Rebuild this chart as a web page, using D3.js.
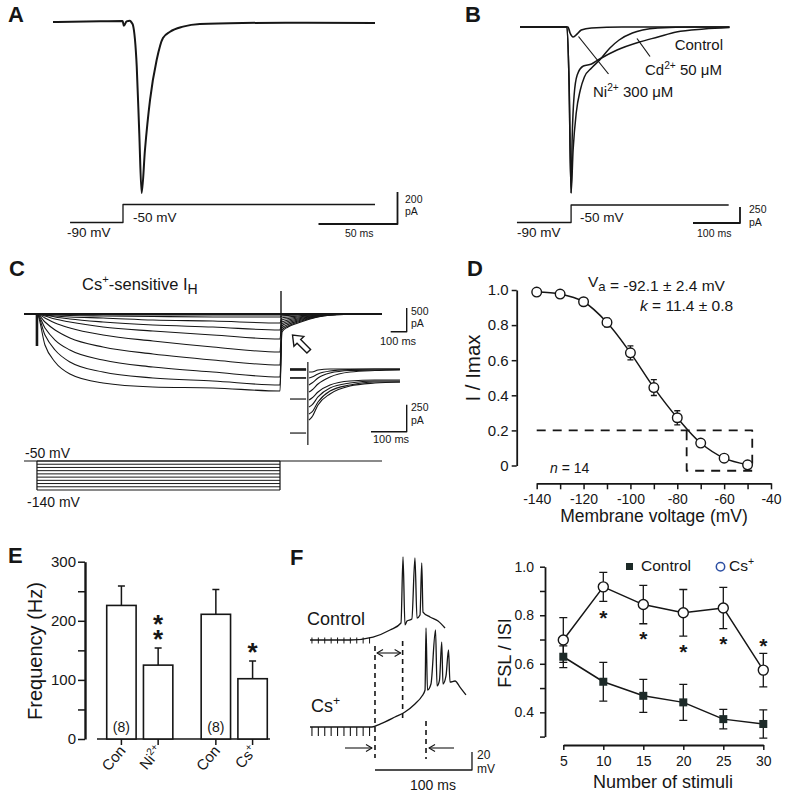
<!DOCTYPE html>
<html><head><meta charset="utf-8">
<script src="https://cdn.jsdelivr.net/npm/d3@7/dist/d3.min.js"></script>
<style>
html,body{margin:0;padding:0;background:#fff;}
svg text{font-family:"Liberation Sans",Arial,Helvetica,sans-serif;fill:#161616;}
</style></head><body>
<svg id="fig" width="790" height="801" xmlns="http://www.w3.org/2000/svg"></svg>
<script>
// ================= DATA =================
// Panel A: whole-cell current (ms, pA) and voltage command
const aTimeMs    = [0, 30, 44.1, 44.8, 46.6, 48.7, 49.8, 50.6, 53, 54.6, 56.1, 58.2, 61.4, 65.6, 69.6, 74.1, 82.3, 93, 120, 160, 203.8];
const aCurrentPa = [0, 4, 6, -24, 4, 8, -4, -19, -279, -694, -1069, -800, -488, -238, -100, -61, -29, -12, -6, -4, -6];
const aCmdTimeMs = [10.8, 44.3, 44.3, 203.8];
const aCmdMv     = [-90, -90, -50, -50];
const aScaleMs = 50, aScalePa = 200;

// Panel B: three traces (ms, pA)
const bSlowTimeMs = [0, 100, 104.3, 108.7, 110.9, 115.2, 121.7, 134.8, 152.2, 169.6, 206.5, 254.3, 293.5, 332.6, 391.3, 445.7];
const bSlowPa     = [0, 0, -828, -2594, -1766, -1063, -750, -609, -578, -500, -359, -234, -156, -78, -31, -8];
const bFastTimeMs = [0, 100, 104.3, 108.7, 113, 119.6, 128.3, 137, 152.2, 169.6, 191.3, 210.9, 239.1, 260.9, 293.5, 369.6, 445.7];
const bFastPa     = [0, 0, -828, -2594, -1922, -1344, -984, -781, -641, -516, -328, -203, -94, -47, -16, 0, 0];
const bNiTimeMs   = [0, 102, 106.5, 113, 121.7, 130.4, 152, 217, 445.7];
const bNiPa       = [0, 0, -94, -156, -109, -47, -16, 0, 0];
const bCmdTimeMs  = [-6.5, 108.7, 108.7, 444];
const bCmdMv      = [-90, -90, -50, -50];
const bScaleMs = 100, bScalePa = 250;

// Panel C: Cs+-sensitive Ih family (ms, pA)
const cTimeMs = [0, 81, 131, 194, 287, 494, 806, 1181, 1600, 1612, 1650, 1712, 1837, 2000, 2237];
const cCurrentsPa = [
  [0, 0, -6, -11, -15, -17, -21, -21, -21, -21, -17, -11, 0, 0, 0],
  [0, 0, -11, -21, -32, -42, -53, -63, -63, -42, -32, -21, -6, 0, 0],
  [0, 0, -21, -42, -63, -84, -127, -148, -190, -84, -63, -42, -17, 0, 0],
  [0, 0, -21, -63, -106, -169, -232, -274, -338, -127, -95, -63, -21, 0, 0],
  [0, 0, -42, -106, -169, -274, -359, -443, -528, -169, -127, -84, -27, 0, 0],
  [0, 0, -84, -190, -295, -443, -570, -696, -802, -211, -158, -106, -34, 0, 0],
  [0, 0, -169, -338, -507, -696, -844, -971, -1076, -253, -190, -127, -42, -4, 0],
  [0, 0, -295, -549, -760, -971, -1118, -1224, -1329, -295, -222, -148, -49, -6, 0],
  [0, 0, -443, -760, -1013, -1224, -1350, -1414, -1498, -338, -253, -169, -55, -8, 0],
  [0, 0, -654, -1013, -1266, -1456, -1540, -1561, -1625, -380, -274, -190, -63, -11, 0]
];
const cStepStartMs = 81, cStepEndMs = 1600;
const cStepMv = [-50, -60, -70, -80, -90, -100, -110, -120, -130, -140];
// inset tail currents
const ciPreTimeMs = [0, 45];
const ciPreLevelPa = [0, 0, -9, -9, -83, -83, -278, -593];
const ciPostTimeMs = [53.2, 61.6, 78.4, 112, 168, 238, 308];
const ciPostPa = [
  [-28, -28, -9, 0, 0, 0, 0],
  [-83, -74, -46, -19, -5, 0, 0],
  [-148, -130, -83, -37, -14, -9, -5],
  [-213, -194, -139, -74, -28, -14, -9],
  [-287, -269, -213, -148, -111, -102, -102],
  [-352, -333, -259, -176, -130, -111, -111],
  [-417, -398, -306, -204, -148, -120, -120],
  [-472, -444, -333, -231, -157, -130, -120]
];

// Panel D: activation curve
const dVoltageMv = [-140, -130, -120, -110, -100, -90, -80, -70, -60, -50];
const dRatio     = [0.988, 0.977, 0.933, 0.815, 0.642, 0.444, 0.272, 0.128, 0.042, 0.004];
const dSem       = [0.005, 0.005, 0.008, 0.025, 0.04, 0.045, 0.04, 0.008, 0.006, 0.006];
const dYTicks = [0, 0.2, 0.4, 0.6, 0.8, 1.0];
const dXTicks = [-140, -130, -120, -110, -100, -90, -80, -70, -60, -50, -40];

// Panel E: bar chart
const eCategories = ["Con", "Ni2+", "Con", "Cs+"];
const eGroups = ["Ni", "Cs"];
const eValuesHz = [226, 125, 211, 102];
const eSemHz    = [33, 29, 42, 30];
const eNLabels  = ["(8)", "", "(8)", ""];
const eStars    = [0, 2, 0, 1];
const eYTicks = [0, 50, 100, 150, 200, 250, 300];

// Panel F (left): current-clamp traces (ms, mV)
const fCtrlTimeMs = [0, 41.2, 65, 82.5, 93.8, 95.9, 97.9, 100, 105, 108.2, 110.3, 113.4, 115.2, 116.5, 123.7, 132, 139.2];
const fCtrlMv     = [-70, -70, -66.7, -58.9, -51.1, 22.2, -53.3, -48.9, -46.7, 21.1, -45.6, -42.2, 15.6, -38.9, -44.4, -48.9, -56.7];
const fCsTimeMs = [0, 63.9, 72.2, 87.6, 97.9, 108.2, 115.5, 118.6, 119.6, 121.1, 124.7, 129.4, 131, 133.5, 135.8, 137.1, 140.2, 142.8, 144.3, 149.5, 154.6, 160.8];
const fCsMv     = [-70, -70, -66.7, -58.9, -53.3, -44.4, -35.6, -28.9, 40, -28.9, -22.2, 37.8, -24.4, -17.8, 24.4, -22.2, -13.3, 15.6, -20, -18.9, -25.6, -34.4];
const fStimTimesMs = [2, 8.6, 15.2, 21.8, 28.4, 35, 41.6, 48.2, 54.8, 61.4];
const fTrainEndMs = 67, fCtrlFslMs = 95.5, fCsFslMs = 119.6;
const fScaleMs = 100, fScaleMv = 20;

// Panel F (right): FSL / ISI
const gStimuli   = [5, 10, 15, 20, 25, 30];
const gControl   = [0.629, 0.526, 0.468, 0.441, 0.372, 0.352];
const gControlSe = [0.045, 0.08, 0.068, 0.074, 0.04, 0.058];
const gCs        = [0.698, 0.917, 0.844, 0.81, 0.83, 0.574];
const gCsSe      = [0.092, 0.06, 0.079, 0.096, 0.085, 0.069];
const gStarStim  = [10, 15, 20, 25, 30];
const gStarY     = [0.805, 0.72, 0.664, 0.70, 0.69];
const gYTicks = [0.3, 0.4, 0.5, 0.6, 0.7, 0.8, 0.9, 1.0];

// ================= DRAWING =================
const INK = '#161616';
const svg = d3.select('#fig');
svg.append('rect').attr('width', 790).attr('height', 801).attr('fill', '#fff');

function tr(xs, ys, x, y, curve) {
  return d3.line().x((d, i) => x(xs[i])).y(d => y(d)).curve(curve || d3.curveMonotoneX)(ys);
}
function stroke(g, d, w, dash) {
  return g.append('path').attr('d', d).attr('fill', 'none').attr('stroke', INK)
    .attr('stroke-width', w || 1.3).attr('stroke-linejoin', 'round')
    .attr('stroke-dasharray', dash || null);
}
function rich(g, x, y, parts, size, anchor, weight) {
  const t = g.append('text').attr('x', x).attr('y', y).attr('font-size', size)
    .attr('text-anchor', anchor || 'start').attr('font-weight', weight || null);
  let cur = 0;
  parts.forEach(p => {
    const [s, k] = Array.isArray(p) ? p : [p, ''];
    let target = 0, fs = null;
    if (k === 'sup') { target = -0.4 * size; fs = size * 0.68; }
    if (k === 'sub') { target = 0.25 * size; fs = size * 0.85; }
    const ts = t.append('tspan').text(s).attr('dy', target - cur);
    if (fs) ts.attr('font-size', fs);
    if (k === 'i') ts.attr('font-style', 'italic');
    cur = target;
  });
  return t;
}
function label(g, x, y, s, size, anchor, weight) {
  return g.append('text').attr('x', x).attr('y', y).attr('font-size', size)
    .attr('text-anchor', anchor || 'start').attr('font-weight', weight || null).text(s);
}
function chevron(g, x, y, dir) { // dir = +1 points right, -1 points left
  stroke(g, `M${x - 6 * dir},${y - 3.5}L${x},${y}L${x - 6 * dir},${y + 3.5}`, 1.1);
}
function styleAxis(ax, size) {
  ax.attr('font-size', size).attr('font-family', null).attr('color', INK);
  ax.selectAll('line').attr('stroke-width', 1.5);
  ax.select('.domain').attr('stroke-width', 1.8);
}

// Panel letters
[['A', 8, 22], ['B', 465, 22], ['C', 9, 276], ['D', 467, 276], ['E', 8, 563], ['F', 290, 565]]
  .forEach(([s, x, y]) => label(svg, x, y, s, 22, 'start', 'bold'));

// ---------- Panel A ----------
{
  const g = svg.append('g');
  const x = d3.scaleLinear().domain([0, 100]).range([53, 211]);
  const yI = d3.scaleLinear().domain([0, -1000]).range([22, 182]);
  const yV = d3.scaleLinear().domain([-90, -50]).range([222.5, 204.5]);
  stroke(g, tr(aTimeMs, aCurrentPa, x, yI), 2);
  stroke(g, tr(aCmdTimeMs, aCmdMv, x, yV, d3.curveLinear), 1.3);
  const bx = 397.5, by = 224;
  const w = x(aScaleMs) - x(0), h = Math.abs(yI(-aScalePa) - yI(0));
  stroke(g, `M${bx - w},${by}H${bx}V${by - h}`, 1.8);
  label(g, 67, 237, '-90 mV', 13.5);
  label(g, 133, 222, '-50 mV', 13.5);
  label(g, 345, 237, aScaleMs + ' ms', 10.5);
  label(g, 405, 203, String(aScalePa), 10.5);
  label(g, 405, 215, 'pA', 10.5);
}

// ---------- Panel B ----------
{
  const g = svg.append('g');
  const x = d3.scaleLinear().domain([0, 100]).range([520, 567]);
  const yI = d3.scaleLinear().domain([0, -250]).range([27, 43]);
  const yV = d3.scaleLinear().domain([-90, -50]).range([222.5, 205]);
  stroke(g, tr(bNiTimeMs, bNiPa, x, yI), 1.7);
  stroke(g, tr(bSlowTimeMs, bSlowPa, x, yI), 1.5);
  stroke(g, tr(bFastTimeMs, bFastPa, x, yI), 1.5);
  stroke(g, tr(bCmdTimeMs, bCmdMv, x, yV, d3.curveLinear), 1.3);
  const bx = 740, by = 223;
  const w = x(bScaleMs) - x(0), h = Math.abs(yI(-bScalePa) - yI(0));
  stroke(g, `M${bx - w},${by}H${bx}V${by - h}`, 1.8);
  label(g, 517, 237, '-90 mV', 13.5);
  label(g, 580, 222, '-50 mV', 13.5);
  label(g, 697, 237, bScaleMs + ' ms', 10.5);
  label(g, 749, 213, String(bScalePa), 10.5);
  label(g, 749, 226, 'pA', 10.5);
  label(g, 723, 50, 'Control', 15, 'end');
  rich(g, 645, 75, ['Cd', ['2+', 'sup'], ' 50 \u03bcM'], 15);
  rich(g, 593, 97, ['Ni', ['2+', 'sup'], ' 300 \u03bcM'], 15);
  stroke(g, 'M578.5,36.5L608.5,74', 1.2);
  stroke(g, 'M637,38.5L650,56.5', 1.2);
}

// ---------- Panel C ----------
{
  const g = svg.append('g');
  const x = d3.scaleLinear().domain([0, 100]).range([24, 40]);
  const y = d3.scaleLinear().domain([0, -500]).range([314, 337.7]);
  cCurrentsPa.forEach(tr0 => stroke(g, tr(cTimeMs, tr0, x, y), 1.1));
  stroke(g, `M${x(0)},${y(0)}H382`, 1.8);
  stroke(g, `M${x(cStepStartMs)},${y(0)}V346`, 2.6);
  stroke(g, `M${x(cStepEndMs) + 1},291V335`, 1.4);
  // arrow
  g.append('path').attr('d', 'M0,0L-9,-7L-9,-2.6L-23,-2.6L-23,2.6L-9,2.6L-9,7Z')
    .attr('transform', 'translate(292.5,335) rotate(225)')
    .attr('fill', '#fff').attr('stroke', INK).attr('stroke-width', 1.4).attr('stroke-linejoin', 'miter');
  // scale bar (main)
  {
    const bx = 406.7, by = 331.7;
    const w = x(100) - x(0), h = Math.abs(y(-500) - y(0));
    stroke(g, `M${bx - w},${by}H${bx}V${by - h}`, 1.4);
    label(g, 411, 315, '500', 10.5);
    label(g, 411, 327, 'pA', 10.5);
    label(g, 380, 345, '100 ms', 11);
  }
  // inset
  const ix = d3.scaleLinear().domain([0, 100]).range([290, 325.7]);
  const iy = d3.scaleLinear().domain([0, -250]).range([369, 396]);
  ciPreLevelPa.forEach(v => stroke(g, tr(ciPreTimeMs, [v, v], ix, iy, d3.curveLinear), 1.2));
  ciPostPa.forEach(arr => stroke(g, tr(ciPostTimeMs, arr, ix, iy), 1.1));
  stroke(g, `M${ix(50)},362V445`, 1.2);
  {
    const bx = 406.7, by = 431.7;
    const w = ix(100) - ix(0), h = Math.abs(iy(-250) - iy(0));
    stroke(g, `M${bx - w},${by}H${bx}V${by - h}`, 1.4);
    label(g, 411, 411, '250', 10.5);
    label(g, 411, 424, 'pA', 10.5);
    label(g, 373, 443, '100 ms', 11);
  }
  // voltage protocol
  const yV = d3.scaleLinear().domain([-50, -140]).range([461, 490]);
  stroke(g, `M24,${yV(-50)}H382`, 1.2);
  cStepMv.forEach(v => stroke(g, `M${x(cStepStartMs)},${yV(v)}H${x(cStepEndMs)}`, 1));
  stroke(g, `M${x(cStepStartMs)},${yV(-50)}V${yV(-140)}M${x(cStepEndMs)},${yV(-50)}V${yV(-140)}`, 1.2);
  label(g, 25, 458, '-50 mV', 14);
  label(g, 27, 507, '-140 mV', 14);
  rich(g, 82, 290, ['Cs', ['+', 'sup'], '-sensitive I', ['H', 'sub']], 16.5);
}

// ---------- Panel D ----------
{
  const g = svg.append('g');
  const x = d3.scaleLinear().domain([-140, -40]).range([536.7, 771]);
  const y = d3.scaleLinear().domain([0, 1]).range([465.5, 290]);
  const ay = g.append('g').attr('transform', 'translate(516.7,0)')
    .call(d3.axisLeft(y).tickValues(dYTicks).tickSize(5).tickPadding(3).tickSizeOuter(0)
      .tickFormat(d => d === 0 ? '0' : d3.format('.1f')(d)));
  styleAxis(ay, 15);
  const ax = g.append('g').attr('transform', 'translate(0,483.3)')
    .call(d3.axisBottom(x).tickValues(dXTicks).tickSize(6).tickPadding(5).tickSizeOuter(0)
      .tickFormat(d => d % 20 === 0 ? d : ''));
  styleAxis(ax, 14);
  // dashed region
  stroke(g, `M${x(-140)},${y(0.2)}H${x(-48)}V${y(-0.03)}H${x(-76)}V${y(0.2)}`, 1.8, '9,7');
  // fit curve
  stroke(g, tr(dVoltageMv, dRatio, x, y, d3.curveCatmullRom.alpha(0.5)), 1.5);
  // error bars
  dVoltageMv.forEach((v, i) => {
    if (dSem[i] < 0.01) return;
    const cx = x(v);
    stroke(g, `M${cx},${y(dRatio[i] - dSem[i])}V${y(dRatio[i] + dSem[i])}M${cx - 3},${y(dRatio[i] - dSem[i])}H${cx + 3}M${cx - 3},${y(dRatio[i] + dSem[i])}H${cx + 3}`, 1.3);
  });
  g.selectAll('circle.d').data(dVoltageMv).enter().append('circle')
    .attr('cx', d => x(d)).attr('cy', (d, i) => y(dRatio[i])).attr('r', 4.8)
    .attr('fill', '#fff').attr('stroke', INK).attr('stroke-width', 1.4);
  rich(g, 588, 287, ['V', ['a', 'sub'], ['', ''], ' = -92.1 \u00b1 2.4 mV'], 15.5);
  rich(g, 640, 311, [['k', 'i'], ' = 11.4 \u00b1 0.8'], 15.5);
  rich(g, 550, 473, [['n', 'i'], ' = 14'], 14);
  label(g, 654, 522, 'Membrane voltage (mV)', 17.5, 'middle');
  label(g, 0, 0, 'I / Imax', 20.5, 'middle').attr('transform', 'translate(480,368) rotate(-90)');
}

// ---------- Panel E ----------
{
  const g = svg.append('g');
  const y = d3.scaleLinear().domain([0, 300]).range([739, 561.7]);
  const outer = d3.scaleBand().domain(eGroups).range([102, 272]).paddingInner(0.3).paddingOuter(0.05);
  const inner = d3.scaleBand().domain([0, 1]).range([0, outer.bandwidth()]).paddingInner(0.2);
  const bx = i => outer(eGroups[Math.floor(i / 2)]) + inner(i % 2);
  const bw = inner.bandwidth();
  const ay = g.append('g').attr('transform', 'translate(85,0)')
    .call(d3.axisLeft(y).tickValues(eYTicks).tickSize(7).tickPadding(2).tickSizeOuter(0)
      .tickFormat(d => d % 100 === 0 ? d : ''));
  styleAxis(ay, 15);
  ay.select('.domain').attr('stroke-width', 2.4);
  stroke(g, `M97,${y(0)}H270`, 1.6);
  eValuesHz.forEach((v, i) => {
    const cx = bx(i) + bw / 2;
    const top = y(v + eSemHz[i]);
    stroke(g, `M${cx},${y(v)}V${top}M${cx - 3.5},${top}H${cx + 3.5}`, 1.5);
    g.append('rect').attr('x', bx(i)).attr('y', y(v)).attr('width', bw).attr('height', y(0) - y(v))
      .attr('fill', '#fff').attr('stroke', INK).attr('stroke-width', 1.6);
    stroke(g, `M${cx},${y(0)}V${y(0) + 6}`, 1.5);
    if (eNLabels[i]) label(g, cx, 731.5, eNLabels[i], 14, 'middle');
    if (eStars[i] > 0) {
      // stacked stars in a single text element
      const st = g.append('text').attr('font-size', 26).attr('font-weight', 'bold')
        .attr('text-anchor', 'middle');
      for (let s = eStars[i] - 1; s >= 0; s--) {
        st.append('tspan').attr('x', cx).attr('y', top - 1 - s * 15 + 1.3).text('*');
      }
    }
    const parts = eCategories[i] === 'Ni2+' ? ['Ni', ['2+', 'sup']] :
                  eCategories[i] === 'Cs+' ? ['Cs', ['+', 'sup']] : [eCategories[i]];
    rich(g, 0, 0, parts, 15, 'end').attr('transform', `translate(${cx + 5},${751}) rotate(-50)`);
  });
  label(g, 0, 0, 'Frequency (Hz)', 20, 'middle').attr('transform', 'translate(42,651) rotate(-90)');
}

// ---------- Panel F (left) ----------
{
  const g = svg.append('g');
  const x = d3.scaleLinear().domain([0, 100]).range([310, 407]);
  const yC = d3.scaleLinear().domain([-70, -50]).range([640, 622]);
  const yS = d3.scaleLinear().domain([-70, -50]).range([727, 709]);
  stroke(g, tr(fCtrlTimeMs, fCtrlMv, x, yC), 1.3);
  stroke(g, tr(fCsTimeMs, fCsMv, x, yS), 1.3);
  fStimTimesMs.forEach(t => {
    stroke(g, `M${x(t)},${yC(-70) - 2.5}V${yC(-70) + 3.5}`, 1);
    stroke(g, `M${x(t)},${yS(-70)}V${yS(-70) + 9}`, 1.1);
  });
  const dash = '5,4';
  stroke(g, `M${x(fTrainEndMs)},646V758`, 1.6, dash);
  stroke(g, `M${x(fCtrlFslMs)},641V719`, 1.6, dash);
  stroke(g, `M${x(fCsFslMs)},721V759`, 1.6, dash);
  // double arrow
  const ya = 653;
  stroke(g, `M${x(fTrainEndMs) + 2},${ya}H${x(fCtrlFslMs) - 2}`, 1.1);
  chevron(g, x(fTrainEndMs) + 2, ya, -1);
  chevron(g, x(fCtrlFslMs) - 2, ya, 1);
  // side arrows
  stroke(g, `M345,748H${x(fTrainEndMs) - 3}`, 1.1);
  chevron(g, x(fTrainEndMs) - 3, 748, 1);
  stroke(g, `M454,748H${x(fCsFslMs) + 3}`, 1.1);
  chevron(g, x(fCsFslMs) + 3, 748, -1);
  // scale bar
  const sx0 = x(fTrainEndMs), sx1 = x(fTrainEndMs + fScaleMs);
  const sh = Math.abs(yS(-70 + fScaleMv) - yS(-70));
  stroke(g, `M${sx0},770H${sx1}V${770 - sh}`, 1.3);
  label(g, 477, 759, String(fScaleMv), 12);
  label(g, 477, 773, 'mV', 12);
  label(g, 410, 790, fScaleMs + ' ms', 14);
  label(g, 307, 625, 'Control', 18);
  rich(g, 311, 712, ['Cs', ['+', 'sup']], 18);
}

// ---------- Panel F (right) ----------
{
  const g = svg.append('g');
  const x = d3.scaleLinear().domain([5, 30]).range([563.3, 763.3]);
  const y = d3.scaleLinear().domain([0.3, 1.0]).range([736.6, 566.7]);
  const ay = g.append('g').attr('transform', 'translate(545,0)')
    .call(d3.axisLeft(y).tickValues(gYTicks).tickSize(5).tickPadding(6).tickSizeOuter(0)
      .tickFormat(d => [4, 6, 8, 10].includes(Math.round(d * 10)) ? d3.format('.1f')(d) : ''));
  styleAxis(ay, 14);
  const ax = g.append('g').attr('transform', 'translate(0,745)')
    .call(d3.axisBottom(x).tickValues(gStimuli).tickSize(5).tickPadding(6).tickSizeOuter(0));
  styleAxis(ax, 14);
  // error bars
  const eb = (xs, ys, se) => xs.forEach((s, i) => {
    const cx = x(s), lo = y(ys[i] - se[i]), hi = y(ys[i] + se[i]);
    stroke(g, `M${cx},${lo}V${hi}M${cx - 4},${lo}H${cx + 4}M${cx - 4},${hi}H${cx + 4}`, 1.3);
  });
  eb(gStimuli, gControl, gControlSe);
  eb(gStimuli, gCs, gCsSe);
  stroke(g, tr(gStimuli, gControl, x, y, d3.curveLinear), 1.5);
  stroke(g, tr(gStimuli, gCs, x, y, d3.curveLinear), 1.5);
  g.selectAll('rect.c').data(gStimuli).enter().append('rect')
    .attr('x', d => x(d) - 4).attr('y', (d, i) => y(gControl[i]) - 4).attr('width', 8).attr('height', 8)
    .attr('fill', '#1d2a28');
  g.selectAll('circle.s').data(gStimuli).enter().append('circle')
    .attr('cx', d => x(d)).attr('cy', (d, i) => y(gCs[i])).attr('r', 5)
    .attr('fill', '#fff').attr('stroke', INK).attr('stroke-width', 1.4);
  gStarStim.forEach((s, i) => label(g, x(s), y(gStarY[i]) + 11, '*', 21, 'middle', 'bold'));
  // legend
  g.append('rect').attr('x', 626).attr('y', 563).attr('width', 7).attr('height', 7).attr('fill', '#1d2a28');
  label(g, 641, 571, 'Control', 15.5);
  g.append('circle').attr('cx', 720.5).attr('cy', 566.8).attr('r', 4.2).attr('fill', 'none')
    .attr('stroke', '#2c4fa3').attr('stroke-width', 1.5);
  rich(g, 729, 571, ['Cs', ['+', 'sup']], 15.5);
  label(g, 663, 788, 'Number of stimuli', 18, 'middle');
  label(g, 0, 0, 'FSL / ISI', 18, 'middle').attr('transform', 'translate(511,653) rotate(-90)');
}
</script>
</body></html>
